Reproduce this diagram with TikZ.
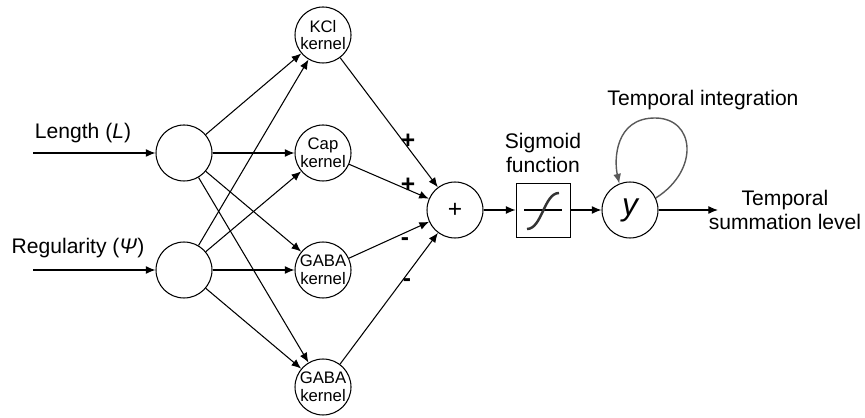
\documentclass[tikz,border=0pt]{standalone}
\usepackage{fontspec}
\setmainfont{Liberation Sans}
\usetikzlibrary{arrows.meta}
\begin{document}
\begin{tikzpicture}[x=0.02cm, y=-0.02cm, line width=0.6pt,
  >={Latex[length=5.5pt,width=4.5pt]},
  unit/.style={draw, circle, minimum size=1.12cm, inner sep=0pt, align=center,
    font=\fontsize{9.5}{10}\selectfont},
  lbl/.style={align=center, font=\fontsize{12}{14}\selectfont},
  sgn/.style={font=\fontsize{14}{14}\selectfont\bfseries}]
\useasboundingbox (0,0) rectangle (865,418);
% input units
\node[unit] (inL) at (184,153) {};
\node[unit] (inP) at (184,270) {};
\coordinate (srcL) at (33,153);
\coordinate (srcP) at (33,270);
\node[lbl] (lblL) at (83,133) {Length (\textit{L})};
\node[lbl] (lblP) at (78,248) {Regularity (\textit{Ψ})};
% kernels
\node[unit] (kcl) at (323,35) {KCl\\kernel};
\node[unit] (cap) at (323,153) {Cap\\kernel};
\node[unit] (gabaA) at (323,270) {GABA\\kernel};
\node[unit] (gabaB) at (323,387) {GABA\\kernel};
% summation, sigmoid, output
\node[unit, font=\fontsize{14}{14}\selectfont] (sum) at (455,210) {+};
\node[draw, line width=0.5pt, minimum size=1.08cm, inner sep=0pt] (sig) at (543,210) {};
\node[lbl] (lblsig) at (543,153) {Sigmoid\\function};
\node[unit, font=\fontsize{18}{18}\selectfont\itshape] (out) at (630,210) {y};
\coordinate (dst) at (718,210);
\node[lbl] (lblout) at (785,210) {Temporal\\summation level};
\node[lbl] (lblloop) at (703,100) {Temporal integration};
% signs
\node[sgn] (sA) at (408,141) {+};
\node[sgn] (sB) at (408,185) {+};
\node[sgn] (sC) at (405,242) {-};
\node[sgn] (sD) at (407,283) {-};

\draw[->] (srcL) -- (inL);
\draw[->] (srcP) -- (inP);
\foreach \a in {inL,inP} \foreach \b in {kcl,cap,gabaA,gabaB} {
  \draw[->] (\a) -- (\b);
}
\foreach \b in {kcl,cap,gabaA,gabaB} \draw[->] (\b) -- (sum);
\draw[->] (sum) -- (sig);
\draw[->] (sig) -- (out);
\draw[->] (out) -- (dst);
% sigmoid glyph
\draw[shift={(sig.center)}, line width=0.9pt] (-19,0) -- (19,0);
\draw[shift={(sig.center)}, gray!40!black, line width=1.4pt]
  (-16,19) .. controls (-1,19) and (1,-17) .. (16,-17);
% self loop
\draw[->, gray!70!black, line width=0.8pt] (out.25) .. controls (700,170) and (695,118) .. (655,118)
  .. controls (615,118) and (614,160) .. (out.112);
\end{tikzpicture}
\end{document}
